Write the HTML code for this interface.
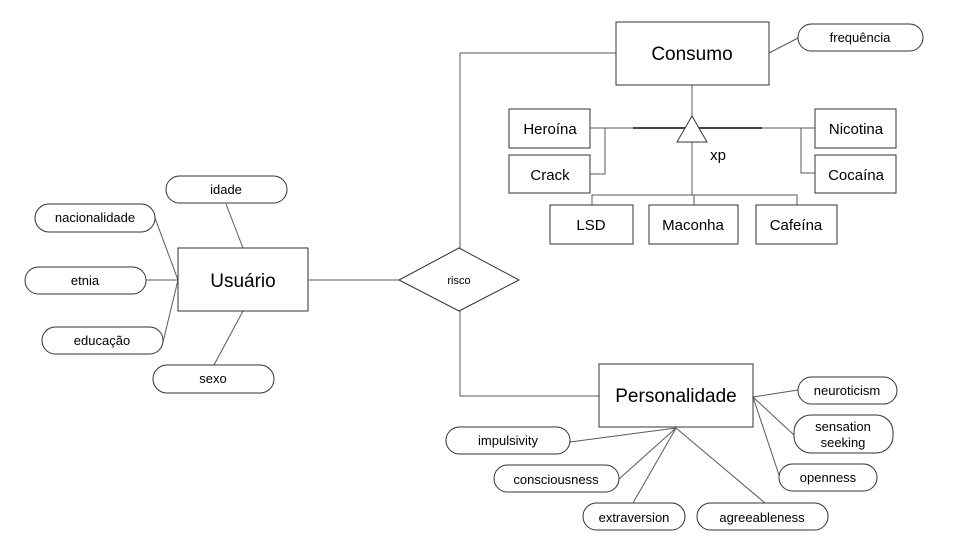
<!DOCTYPE html>
<html><head><meta charset="utf-8"><style>
html,body{margin:0;padding:0;background:#fff;}
svg{display:block;font-family:"Liberation Sans",Arial,sans-serif;}
</style></head><body>
<svg width="960" height="540" viewBox="0 0 960 540" xmlns="http://www.w3.org/2000/svg">
<g stroke="#595959" stroke-width="1" fill="none">
<!-- Usuario attribute lines -->
<line x1="226" y1="204" x2="243" y2="248"/>
<line x1="155" y1="218" x2="178" y2="280"/>
<line x1="146" y1="280" x2="178" y2="280"/>
<line x1="163" y1="342" x2="178" y2="280"/>
<line x1="214" y1="365" x2="243" y2="311"/>
<line x1="308" y1="280" x2="399" y2="280"/>
<!-- risco connections -->
<polyline points="460,248 460,53 616,53"/>
<polyline points="460,311 460,396 599,396"/>
<!-- Consumo -->
<line x1="769" y1="53" x2="798" y2="38"/>
<line x1="692" y1="85" x2="692" y2="116"/>
<line x1="590" y1="128" x2="815" y2="128"/>
<polyline points="590,174 605,174 605,128"/>
<polyline points="815,173 801,173 801,128"/>
<line x1="692" y1="142" x2="692" y2="195"/>
<polyline points="592,205 592,195 797,195 797,205"/>
<line x1="694" y1="195" x2="694" y2="205"/>
<!-- Personalidade attributes -->
<line x1="570" y1="442" x2="676" y2="428"/>
<line x1="619" y1="479" x2="676" y2="428"/>
<line x1="633" y1="503" x2="676" y2="428"/>
<line x1="765" y1="503" x2="676" y2="428"/>
<line x1="753" y1="397" x2="798" y2="390"/>
<line x1="753" y1="397" x2="794" y2="435"/>
<line x1="753" y1="397" x2="780" y2="478"/>
</g>
<line x1="633" y1="128" x2="762" y2="128" stroke="#444" stroke-width="2"/>
<g stroke="#333" stroke-width="1" fill="#fff">
<rect x="178" y="248" width="130" height="63"/>
<polygon points="399,280 459,248 519,280 459,311"/>
<rect x="616" y="22" width="153" height="63"/>
<rect x="599" y="364" width="154" height="63"/>
<polygon points="692,116 707,142 677,142"/>
<rect x="509" y="109" width="81" height="39"/>
<rect x="509" y="155" width="81" height="38"/>
<rect x="815" y="109" width="81" height="39"/>
<rect x="815" y="155" width="81" height="38"/>
<rect x="550" y="205" width="83" height="39"/>
<rect x="649" y="205" width="89" height="39"/>
<rect x="756" y="205" width="81" height="39"/>
<rect x="166" y="176" width="121" height="27" rx="13.5"/>
<rect x="35" y="204" width="120" height="28" rx="14"/>
<rect x="25" y="267" width="121" height="27" rx="13.5"/>
<rect x="42" y="327" width="121" height="27" rx="13.5"/>
<rect x="153" y="365" width="121" height="28" rx="14"/>
<rect x="798" y="24" width="125" height="27" rx="13.5"/>
<rect x="798" y="377" width="99" height="27" rx="13.5"/>
<rect x="794" y="415" width="99" height="38" rx="17"/>
<rect x="779" y="464" width="98" height="27" rx="13.5"/>
<rect x="446" y="427" width="124" height="27" rx="13.5"/>
<rect x="494" y="465" width="125" height="27" rx="13.5"/>
<rect x="583" y="503" width="102" height="27" rx="13.5"/>
<rect x="697" y="503" width="131" height="27" rx="13.5"/>
</g>
<g fill="#000" text-anchor="middle">
<text x="243" y="287" font-size="19">Usuário</text>
<text x="692" y="60" font-size="19">Consumo</text>
<text x="676" y="402" font-size="19">Personalidade</text>
<text x="459" y="284" font-size="11">risco</text>
<g font-size="15">
<text x="550" y="134">Heroína</text>
<text x="550" y="180">Crack</text>
<text x="856" y="134">Nicotina</text>
<text x="856" y="180">Cocaína</text>
<text x="591" y="230">LSD</text>
<text x="693" y="230">Maconha</text>
<text x="796" y="230">Cafeína</text>
<text x="718" y="160">xp</text>
</g>
<g font-size="13">
<text x="226" y="194">idade</text>
<text x="95" y="222">nacionalidade</text>
<text x="85" y="285">etnia</text>
<text x="102" y="345">educação</text>
<text x="213" y="383">sexo</text>
<text x="860" y="42">frequência</text>
<text x="847" y="395">neuroticism</text>
<text x="843" y="431">sensation</text>
<text x="843" y="447">seeking</text>
<text x="828" y="482">openness</text>
<text x="508" y="445">impulsivity</text>
<text x="556" y="484">consciousness</text>
<text x="634" y="522">extraversion</text>
<text x="762" y="522">agreeableness</text>
</g>
</g>
</svg>
</body></html>
